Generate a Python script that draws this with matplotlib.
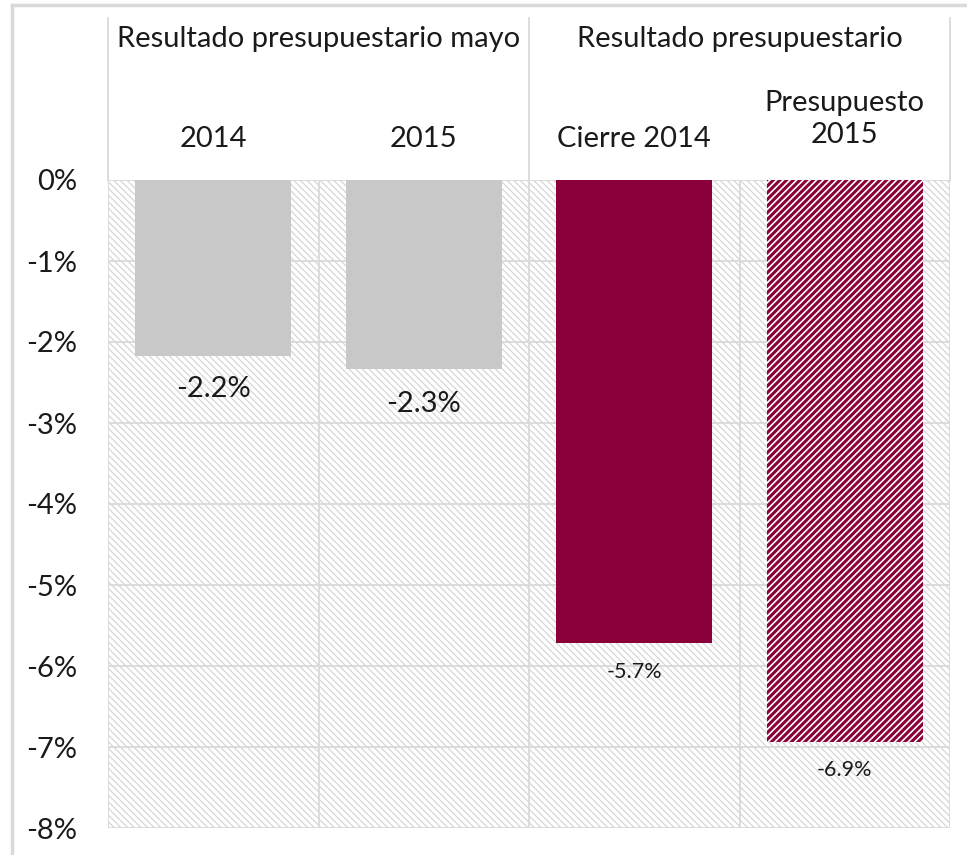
import matplotlib
matplotlib.use('Agg')
from matplotlib import pyplot as plt
from matplotlib.patches import Rectangle
from matplotlib.lines import Line2D
import numpy as np

plt.rcParams['font.family'] = ['Lato', 'DejaVu Sans']

# data
categories = ['2014', '2015', 'Cierre 2014', 'Presupuesto\n2015']
groups = ['Resultado presupuestario mayo', 'Resultado presupuestario']
group_span = [(0, 2), (2, 4)]
values = [-2.17, -2.33, -5.72, -6.94]
labels = ['-2.2%', '-2.3%', '-5.7%', '-6.9%']
yticks = [0, -1, -2, -3, -4, -5, -6, -7, -8]

W, H = 967, 855
fig = plt.figure(figsize=(W / 100, H / 100), dpi=100)

def fx(px):
    return px / W

def fy(py):
    return 1 - py / H

left, right, top, bottom = 108, 950, 180, 828
ax = fig.add_axes([fx(left), fy(bottom), fx(right - left), fy(top) - fy(bottom)])

grid = '#D9D9D9'
maroon = '#8A0038'
gray = '#C8C8C8'
txt = '#1A1A1A'

# hatched plot background
plt.rcParams['hatch.linewidth'] = 0.9
ax.add_patch(Rectangle((0, -8), 4, 8, facecolor='white', edgecolor='#D6D6D6',
                       hatch='\\\\\\\\\\', linewidth=0, zorder=0))
for t in yticks:
    ax.axhline(t, color=grid, lw=1.3, zorder=1)
for xv in [0, 1, 2, 3, 4]:
    ax.axvline(xv, color=grid, lw=1.3, zorder=1)

x = np.arange(len(values)) + 0.5
width = 0.74
ax.bar(x[:2], values[:2], width=width, color=gray, zorder=2)
ax.bar(x[2], values[2], width=width, color=maroon, zorder=2)
plt.rcParams['hatch.linewidth'] = 2.2
ax.bar(x[3], values[3], width=width, color='white', edgecolor=maroon,
       hatch='/////', linewidth=0, zorder=2)

sizes = [21, 21, 15.5, 15.5]
offs = [0.41, 0.44, 0.36, 0.34]
for xi, v, lab, s, o in zip(x, values, labels, sizes, offs):
    ax.text(xi, v - o, lab, ha='center', va='center', fontsize=s, color=txt, zorder=3)

ax.set_xlim(0, 4)
ax.set_ylim(-8, 0)
ax.set_xticks([])
ax.set_yticks(yticks)
ax.set_yticklabels(['%d%%' % t for t in yticks], fontsize=21, color=txt)
ax.tick_params(axis='y', length=0, pad=22)
for sp in ax.spines.values():
    sp.set_visible(False)

# header: group titles and category names
for g, (a, b) in zip(groups, group_span):
    cx = left + (right - left) * (a + b) / 2 / 4
    fig.text(fx(cx), fy(39), g, ha='center', va='center', fontsize=21, color=txt)
for i, c in enumerate(categories):
    cx = left + (right - left) * (i + 0.5) / 4
    if '\n' in c:
        fig.text(fx(cx), fy(119), c, ha='center', va='center', fontsize=21,
                 color=txt, linespacing=1.3)
    else:
        fig.text(fx(cx), fy(139), c, ha='center', va='center', fontsize=21, color=txt)

for px in [left, (left + right) / 2, right]:
    fig.add_artist(Line2D([fx(px), fx(px)], [fy(18), fy(top)], color=grid, lw=1.3))

# outer chart frame (clipped at right and bottom)
fig.add_artist(Line2D([fx(12), 1.0], [fy(5), fy(5)], color='#D9D9D9', lw=2.5))
fig.add_artist(Line2D([fx(12), fx(12)], [fy(5), 0.0], color='#D9D9D9', lw=2.5))

plt.savefig('out.png', dpi=100)
plt.close()
